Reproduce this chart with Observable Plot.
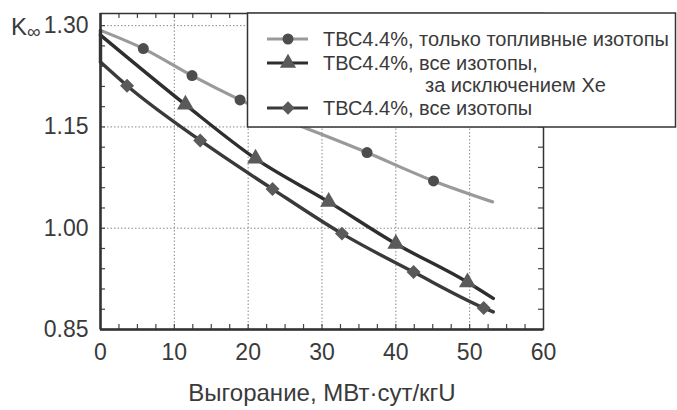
<!DOCTYPE html>
<html>
<head>
<meta charset="utf-8">
<script src="https://cdn.jsdelivr.net/npm/d3@7"></script>
<script src="https://cdn.jsdelivr.net/npm/@observablehq/plot@0.6"></script>
<style>
  html, body { margin: 0; padding: 0; background: #fff; }
  #chart svg { display: block; }
  #chart g[aria-label*="axis"] text { font-size: 23px; fill: #3a3a3a; }
</style>
</head>
<body>
<div id="chart"></div>
<script>
// ---- Data ----
// Series 1: fuel isotopes only (circles)
const fuelX = [0, 5.8, 12.4, 18.9, 36.1, 45.1, 53.1];
const fuelK = [1.293, 1.266, 1.226, 1.190, 1.112, 1.070, 1.039];
const fuelMarkX = [5.8, 12.4, 18.9, 36.1, 45.1];
const fuelMarkK = [1.266, 1.226, 1.190, 1.112, 1.070];

// Series 2: all isotopes except Xe (triangles)
const noXeX = [0, 11.5, 21.0, 30.9, 40.0, 49.7, 53.2];
const noXeK = [1.286, 1.183, 1.103, 1.039, 0.977, 0.920, 0.896];
const noXeMarkX = [11.5, 21.0, 30.9, 40.0, 49.7];
const noXeMarkK = [1.183, 1.103, 1.039, 0.977, 0.920];

// Series 3: all isotopes (diamonds); first two points = Xe drop at zero burnup
const allX = [0, 0, 3.6, 13.5, 23.3, 32.7, 42.4, 51.9, 53.2];
const allK = [1.293, 1.246, 1.211, 1.130, 1.058, 0.992, 0.935, 0.882, 0.876];
const allMarkX = [3.6, 13.5, 23.3, 32.7, 42.4, 51.9];
const allMarkK = [1.211, 1.130, 1.058, 0.992, 0.935, 0.882];

// Axes
const xTicks = [0, 10, 20, 30, 40, 50, 60];
const yTicks = [0.85, 1.00, 1.15, 1.30];
const xMinor = d3.range(2.5, 60, 2.5);
const yMinor = d3.range(0.88, 1.31, 0.03);
const xTitle = "Выгорание, МВт·сут/кгU";
const legendLabels = [
  "ТВС4.4%, только топливные изотопы",
  "ТВС4.4%, все изотопы,",
  "за исключением Xe",
  "ТВС4.4%, все изотопы"
];

// ---- Build tables ----
const zip = (xs, ys) => xs.map((x, i) => ({x, y: ys[i]}));
const fuelLine = zip(fuelX, fuelK), fuelMarks = zip(fuelMarkX, fuelMarkK);
const noXeLine = zip(noXeX, noXeK), noXeMarks = zip(noXeMarkX, noXeMarkK);
const allLine = zip(allX, allK), allMarks = zip(allMarkX, allMarkK);
const allDrop = allLine.slice(0, 2), allMain = allLine.slice(1);

const W = 677, H = 410;
const mL = 100, mR = 134, mT = 13, mB = 81;
const pw = W - mL - mR, ph = H - mT - mB;
const TEXT = "#3a3a3a";
const FONT = "'Liberation Sans', Arial, Helvetica, sans-serif";

const plot = Plot.plot({
  width: W, height: H,
  marginLeft: mL, marginRight: mR, marginTop: mT, marginBottom: mB,
  style: {fontFamily: FONT, fontSize: "23px", color: TEXT, background: "#fff"},
  x: {domain: [0, 60], ticks: xTicks, tickSize: 0, tickPadding: 14, label: null},
  y: {domain: [0.85, 1.318], ticks: yTicks, tickFormat: d3.format(".2f"), tickSize: 0, tickPadding: 12, label: null},
  marks: [
    // dotted grid
    Plot.ruleX(xTicks.filter(d => d > 0 && d < 60), {stroke: "#888", strokeWidth: 1, strokeDasharray: "1.5,2"}),
    Plot.ruleY(yTicks.filter(d => d > 0.85), {stroke: "#888", strokeWidth: 1, strokeDasharray: "1.5,2"}),
    // minor inward ticks
    Plot.ruleX(xMinor, {stroke: "#444", strokeWidth: 1.2, insetTop: ph - 5}),
    Plot.ruleX(xMinor, {stroke: "#444", strokeWidth: 1.2, insetBottom: ph - 5}),
    Plot.ruleY(yMinor, {stroke: "#444", strokeWidth: 1.2, insetLeft: pw - 5}),
    Plot.ruleY(yMinor, {stroke: "#444", strokeWidth: 1.2, insetRight: pw - 5}),
    // lines
    Plot.line(fuelLine, {x: "x", y: "y", stroke: "#9a9a9a", strokeWidth: 3.2, curve: "monotone-x"}),
    Plot.line(noXeLine, {x: "x", y: "y", stroke: "#2e2e2e", strokeWidth: 3.4, curve: "monotone-x"}),
    Plot.line(allDrop, {x: "x", y: "y", stroke: "#3a3a3a", strokeWidth: 3.4}),
    Plot.line(allMain, {x: "x", y: "y", stroke: "#3a3a3a", strokeWidth: 3.4, curve: "monotone-x"}),
    // markers
    Plot.dot(fuelMarks, {x: "x", y: "y", r: 5.5, fill: "#4d4d4d", symbol: "circle"}),
    Plot.dot(noXeMarks, {x: "x", y: "y", r: 6.3, fill: "#5a5a5a", symbol: "triangle"}),
    Plot.dot(allMarks, {x: "x", y: "y", r: 6.3, fill: "#5a5a5a", symbol: "diamond2"}),
    // frame
    Plot.frame({stroke: "#333", strokeWidth: 1.5}),
    Plot.ruleX([0], {stroke: "#333", strokeWidth: 2.5}),
    Plot.ruleY([0.85], {stroke: "#333", strokeWidth: 2.5}),
    // x title
    Plot.text([xTitle], {frameAnchor: "bottom", dy: 71, fontSize: 24, fill: TEXT, text: d => d})
  ]
});
document.getElementById("chart").appendChild(plot);

// ---- Y label "K∞" and legend (drawn in pixels on top) ----
const svg = d3.select(plot);
const k = svg.append("text").attr("x", 11).attr("y", 35).attr("text-anchor", "start")
  .attr("font-family", FONT).attr("font-size", 24).attr("fill", TEXT);
k.append("tspan").text("K");
k.append("tspan").attr("font-size", 19).attr("dy", 3).text("∞");

const lg = svg.append("g").attr("font-family", FONT).attr("fill", TEXT).attr("text-anchor", "start");
lg.append("rect").attr("x", 247.5).attr("y", 13).attr("width", 428).attr("height", 114)
  .attr("fill", "#fff").attr("stroke", "#333").attr("stroke-width", 1.5);

const rows = [
  {y: 39, stroke: "#9a9a9a", fill: "#4d4d4d", sym: d3.symbolCircle, size: Math.PI * 5.5 * 5.5},
  {y: 63, stroke: "#2e2e2e", fill: "#5a5a5a", sym: d3.symbolTriangle, size: Math.PI * 36},
  {y: 108, stroke: "#3a3a3a", fill: "#5a5a5a", sym: d3.symbolDiamond2, size: Math.PI * 36}
];
rows.forEach(r => {
  lg.append("line").attr("x1", 267).attr("x2", 308).attr("y1", r.y).attr("y2", r.y)
    .attr("stroke", r.stroke).attr("stroke-width", 3.2);
  lg.append("path").attr("d", d3.symbol(r.sym, r.size)()).attr("transform", `translate(288,${r.y})`)
    .attr("fill", r.fill);
});
const textPos = [[323, 39], [323, 63], [425, 85], [323, 108]];
legendLabels.forEach((t, i) => {
  lg.append("text").attr("x", textPos[i][0]).attr("y", textPos[i][1]).attr("dy", "0.35em")
    .attr("font-size", 20).text(t);
});
</script>
</body>
</html>
